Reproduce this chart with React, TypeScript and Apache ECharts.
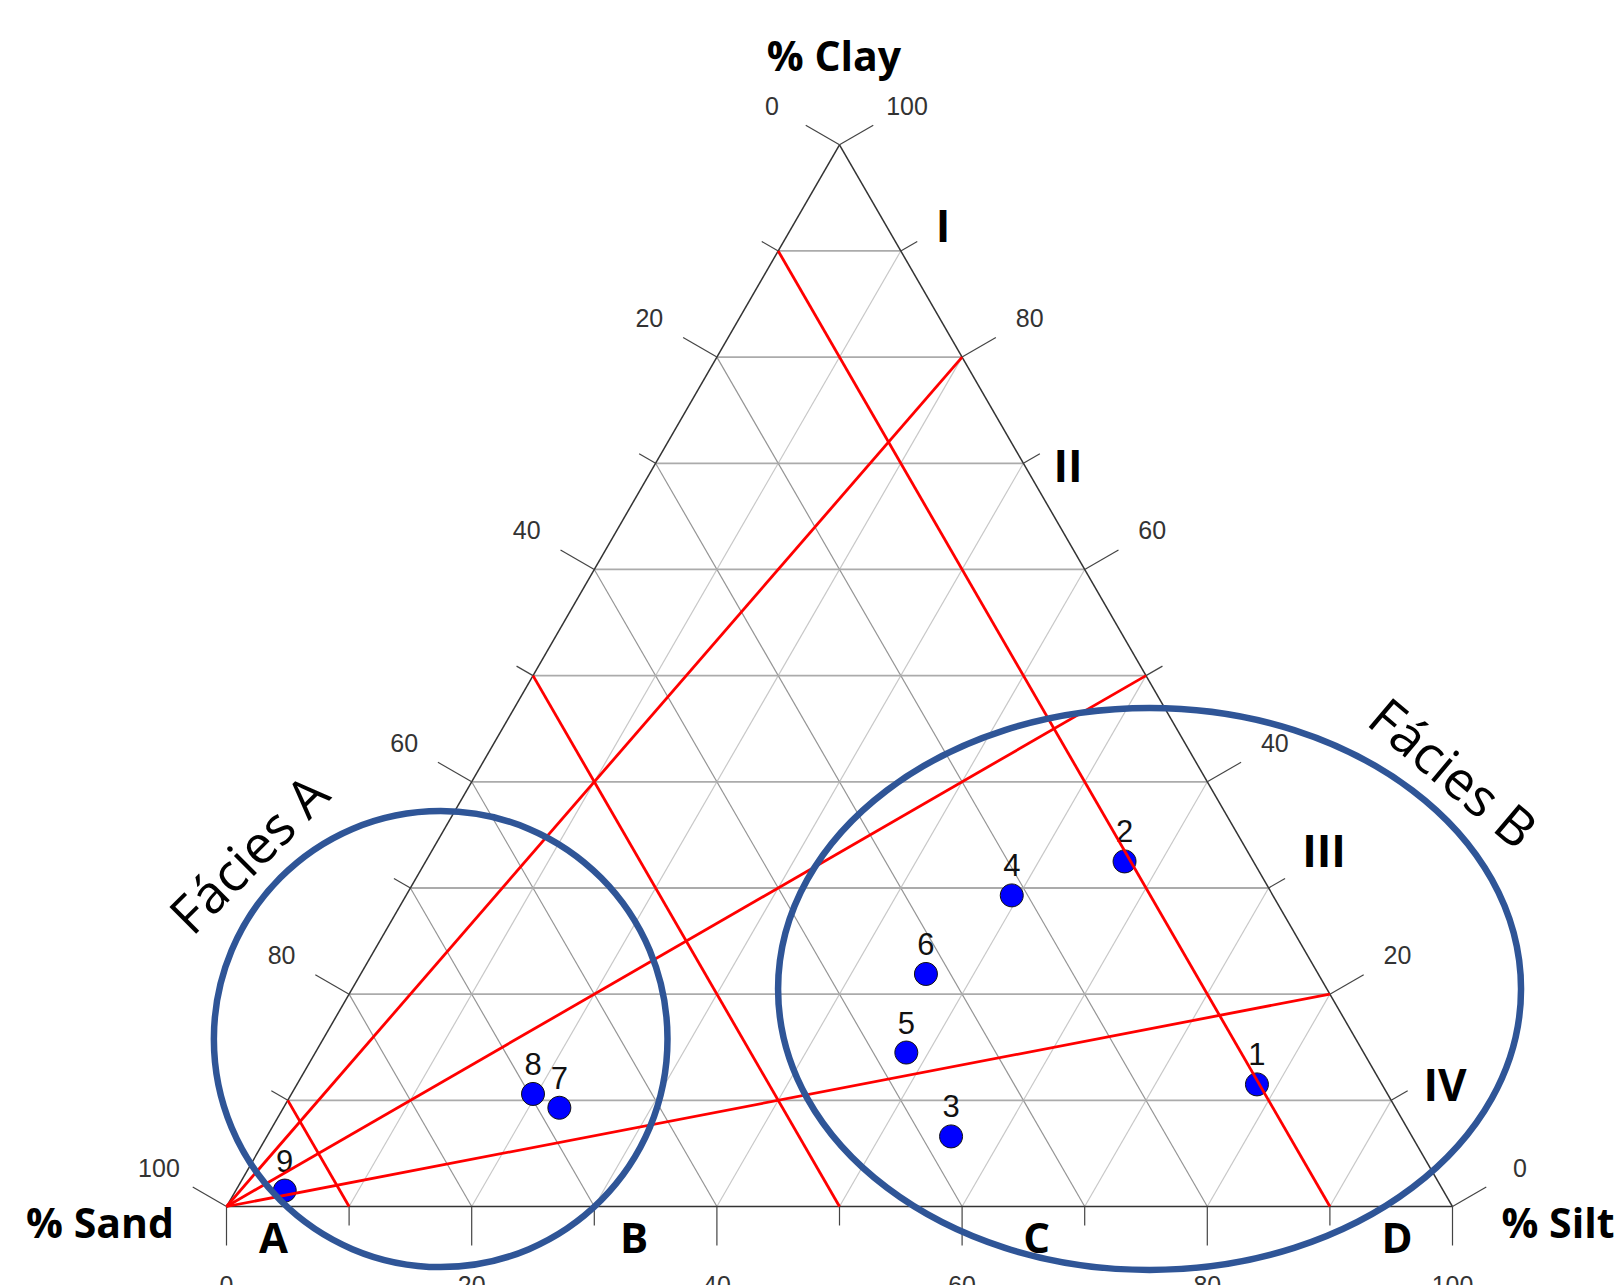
import React, { useEffect, useRef } from 'react';
import * as echarts from 'echarts';

// ---- data (percentages) ----
const sampleIds = ['1', '2', '3', '4', '5', '6', '7', '8', '9'];
const sandPct = [10.2, 10.5, 37.6, 21.3, 37.3, 32.0, 68.2, 69.7, 94.5];
const siltPct = [78.3, 57.0, 55.8, 49.4, 48.2, 46.1, 22.5, 19.7, 4.0];
const clayPct = [11.5, 32.5, 6.6, 29.3, 14.5, 21.9, 9.3, 10.6, 1.5];

const gridValues = [10, 20, 30, 40, 50, 60, 70, 80, 90];
const tickValues = [0, 10, 20, 30, 40, 50, 60, 70, 80, 90, 100];
const labelEvery = 20;

// classification boundaries
const sandBoundaries = [90, 50, 10]; // constant-sand lines
const rayClay = [80, 50, 20]; // rays from sand corner to the silt-clay edge
const raySilt = [20, 50, 80];

const textureClasses = ['A', 'B', 'C', 'D'];
const ratioClasses = ['I', 'II', 'III', 'IV'];
const faciesNames = ['Fácies A', 'Fácies B'];

// ---- layout ----
const H = Math.sqrt(3) / 2;
const SIDE = 1226;
const LEFT = 226.5;
const BOTTOM = 1206.5;
const TOP = BOTTOM - SIDE * H;

function tern(s: number, t: number, c: number): [number, number] {
  const sum = s + t + c;
  const si = (t / sum) * 100;
  const cl = (c / sum) * 100;
  return [si + cl / 2, cl * H];
}

type Seg = [number, number, number, number];
const seg = (a: [number, number], b: [number, number]): Seg => [a[0], a[1], b[0], b[1]];

const clayGrid: Seg[] = gridValues.map((v) => seg(tern(100 - v, 0, v), tern(0, 100 - v, v)));
const sandGrid: Seg[] = gridValues.map((v) => seg(tern(v, 0, 100 - v), tern(v, 100 - v, 0)));
const siltGrid: Seg[] = gridValues.map((v) => seg(tern(100 - v, v, 0), tern(0, v, 100 - v)));
const edges: Seg[] = [
  seg(tern(100, 0, 0), tern(0, 100, 0)),
  seg(tern(0, 100, 0), tern(0, 0, 100)),
  seg(tern(0, 0, 100), tern(100, 0, 0)),
];
const redLines: Seg[] = [
  ...sandBoundaries.map((s) => seg(tern(s, 0, 100 - s), tern(s, 100 - s, 0))),
  ...rayClay.map((c, i) => seg(tern(100, 0, 0), tern(0, raySilt[i], c))),
];

type Tick = { pt: [number, number]; dx: number; dy: number; value: number };
const ticks: Tick[] = [];
tickValues.forEach((v) => {
  ticks.push({ pt: tern(v, 0, 100 - v), dx: -H, dy: -0.5, value: v }); // sand (left)
  ticks.push({ pt: tern(0, 100 - v, v), dx: H, dy: -0.5, value: v }); // clay (right)
  ticks.push({ pt: tern(100 - v, v, 0), dx: 0, dy: 1, value: v }); // silt (bottom)
});

// ellipses (data units of the hidden cartesian frame)
const ellipses = [
  { cx: 17.47, cy: 13.66, rx: 18.5, ry: 18.6 },
  { cx: 75.29, cy: 17.74, rx: 30.3, ry: 22.92 },
];

function segSeries(name: string, segs: Seg[], color: string, width: number, z: number) {
  return {
    type: 'custom',
    name,
    coordinateSystem: 'cartesian2d',
    silent: true,
    z,
    data: segs,
    encode: { x: [0, 2], y: [1, 3] },
    renderItem: (params: any, api: any) => {
      const a = api.coord([api.value(0), api.value(1)]);
      const b = api.coord([api.value(2), api.value(3)]);
      return {
        type: 'line',
        shape: { x1: a[0], y1: a[1], x2: b[0], y2: b[1] },
        style: { stroke: color, lineWidth: width, lineCap: 'butt' },
      };
    },
  };
}

const boldFont = '"Open Sans", "DejaVu Sans", sans-serif';
const numFont = '"Liberation Sans", Arial, sans-serif';

function txt(text: string, x: number, y: number, size: number, weight: string, rotation = 0) {
  return {
    type: 'text',
    x,
    y,
    rotation,
    z: 10,
    style: {
      text,
      fill: '#000',
      fontSize: size,
      fontWeight: weight,
      fontFamily: boldFont,
      align: 'center',
      verticalAlign: 'middle',
    },
  };
}

export default function App() {
  const ref = useRef<HTMLDivElement>(null);
  useEffect(() => {
    if (!ref.current) return;
    const chart = echarts.init(ref.current, undefined, { renderer: 'svg' });
    const points = sampleIds.map((id, i) => ({
      name: id,
      value: tern(sandPct[i], siltPct[i], clayPct[i]),
    }));
    const letterX = [273.5, 634, 1036.5, 1397];
    const romanPos: [number, number][] = [
      [943, 225],
      [1068, 465],
      [1324, 850],
      [1445, 1084],
    ];
    chart.setOption({
      animation: false,
      backgroundColor: '#ffffff',
      grid: { left: LEFT, top: TOP, width: SIDE, height: SIDE * H, outerBoundsMode: 'none', containLabel: false },
      xAxis: { type: 'value', min: 0, max: 100, show: false },
      yAxis: { type: 'value', min: 0, max: 100 * H, show: false },
      series: [
        segSeries('siltGrid', siltGrid, '#c8c8c8', 1.2, 1),
        segSeries('sandGrid', sandGrid, '#959595', 1.2, 1),
        segSeries('clayGrid', clayGrid, '#ababab', 1.8, 1),
        segSeries('edges', edges, '#333333', 1.5, 2),
        {
          type: 'custom',
          name: 'ticks',
          coordinateSystem: 'cartesian2d',
          silent: true,
          z: 2,
          data: ticks.map((t) => t.pt),
          renderItem: (params: any, api: any) => {
            const t = ticks[params.dataIndex];
            const p = api.coord(t.pt);
            const major = t.value % labelEvery === 0;
            const len = major ? 39 : 19;
            const children: any[] = [
              {
                type: 'line',
                shape: { x1: p[0], y1: p[1], x2: p[0] + t.dx * len, y2: p[1] + t.dy * len },
                style: { stroke: '#444', lineWidth: 1.2 },
              },
            ];
            if (major) {
              children.push({
                type: 'text',
                x: p[0] + t.dx * 78,
                y: p[1] + t.dy * 78,
                style: {
                  text: String(t.value),
                  fill: '#333',
                  fontSize: 25,
                  fontFamily: numFont,
                  align: 'center',
                  verticalAlign: 'middle',
                },
              });
            }
            return { type: 'group', children };
          },
        },
        {
          type: 'scatter',
          name: 'samples',
          z: 3,
          symbol: 'circle',
          symbolSize: 23,
          itemStyle: { color: '#0000ff', borderColor: '#111', borderWidth: 1, opacity: 1 },
          label: {
            show: true,
            position: 'top',
            distance: 2,
            formatter: (p: any) => p.name,
            fontSize: 31,
            fontFamily: numFont,
            color: '#111',
          },
          data: points,
        },
        segSeries('boundaries', redLines, '#ff0000', 2.8, 4),
        {
          type: 'custom',
          name: 'facies',
          coordinateSystem: 'cartesian2d',
          silent: true,
          z: 5,
          data: ellipses.map((e) => [e.cx, e.cy]),
          renderItem: (params: any, api: any) => {
            const e = ellipses[params.dataIndex];
            const c = api.coord([e.cx, e.cy]);
            const s = api.size([e.rx, e.ry]);
            return {
              type: 'ellipse',
              shape: { cx: c[0], cy: c[1], rx: s[0], ry: s[1] },
              style: { fill: 'none', stroke: '#2f5597', lineWidth: 6.5 },
            };
          },
        },
      ],
      graphic: [
        txt('% Clay', 834, 55, 41, 'bold'),
        txt('% Sand', 100, 1222, 41, 'bold'),
        txt('% Silt', 1558, 1222, 41, 'bold'),
        ...textureClasses.map((l, i) => txt(l, letterX[i], 1236, 42, 'bold')),
        ...ratioClasses.map((l, i) => txt(l, romanPos[i][0], romanPos[i][1], 44, 'bold')),
        txt(faciesNames[0], 248, 853, 53, 'normal', Math.PI / 4),
        txt(faciesNames[1], 1454, 772, 53, 'normal', -0.7),
      ],
    });
    return () => chart.dispose();
  }, []);
  return (
    <div
      ref={ref}
      style={{ position: 'fixed', left: 0, top: 0, width: 1622, height: 1285, background: '#fff' }}
    />
  );
}
